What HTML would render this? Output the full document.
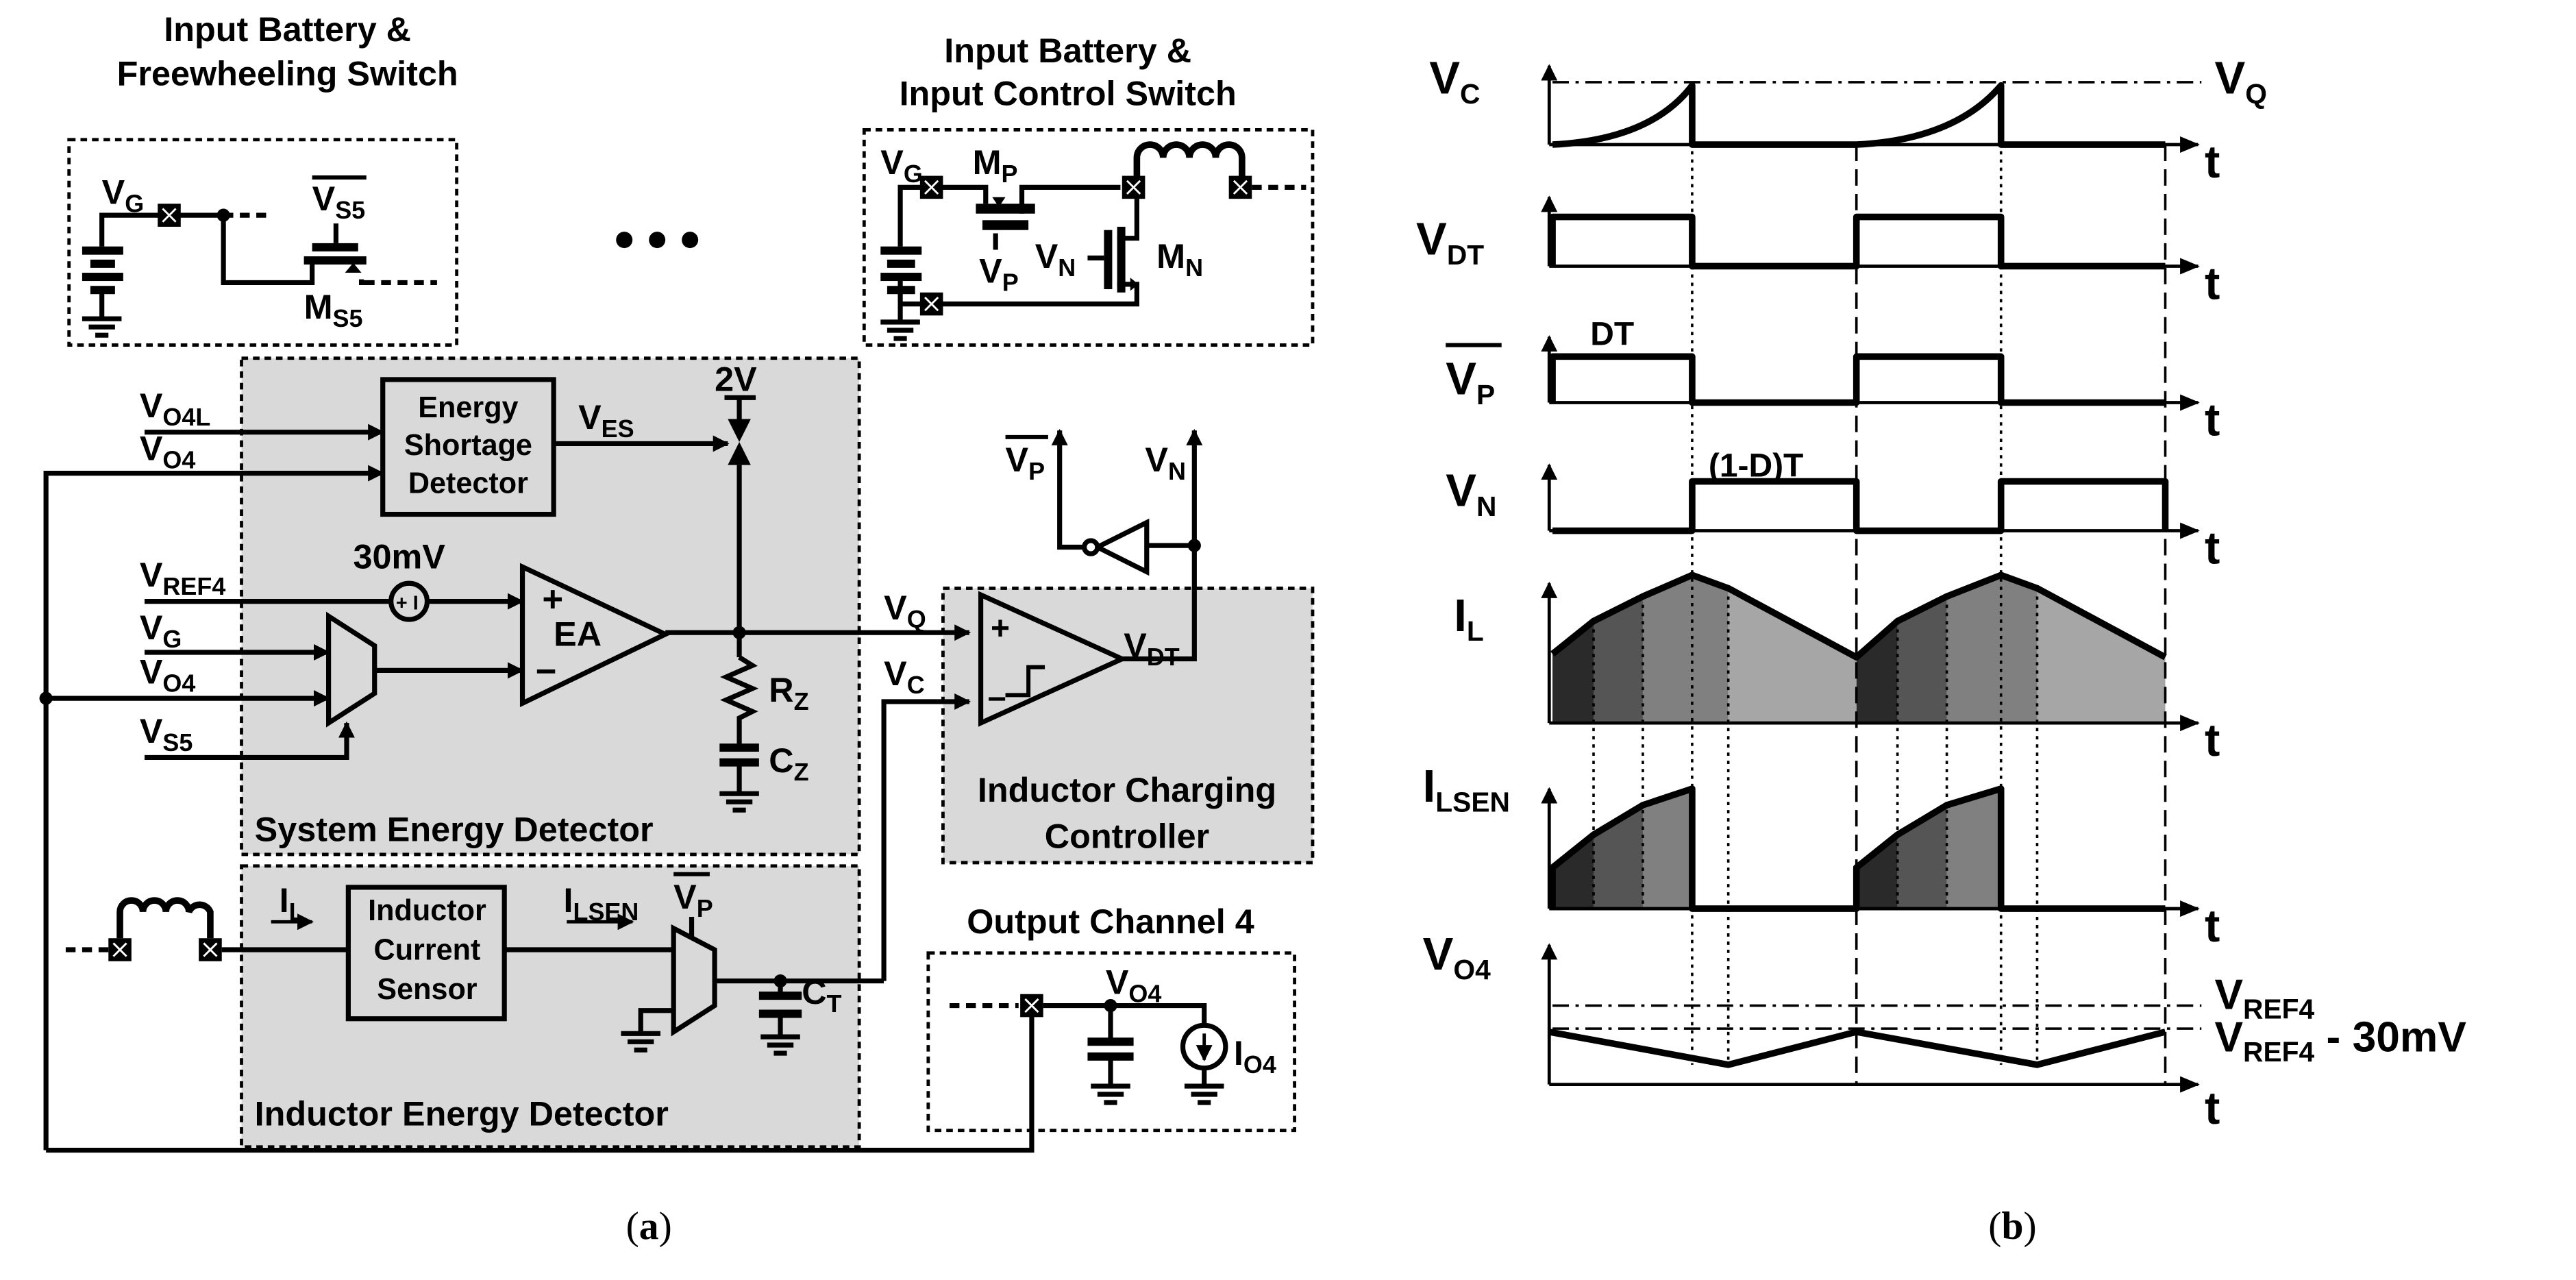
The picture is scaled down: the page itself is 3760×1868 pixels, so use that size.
<!DOCTYPE html>
<html><head><meta charset="utf-8"><style>
html,body{margin:0;padding:0;background:#fff}
svg{display:block}
text{font-family:"Liberation Sans",Arial,sans-serif;font-weight:bold;fill:#000}
.s{font-size:15px}
</style></head><body>
<svg width="3760" height="1868" viewBox="0 0 1568 779" preserveAspectRatio="none" xmlns="http://www.w3.org/2000/svg">
<defs>
<marker id="ar" markerWidth="10" markerHeight="10" refX="9" refY="5" orient="auto" markerUnits="userSpaceOnUse"><path d="M0,0 L10,5 L0,10 z" fill="#000"/></marker>
<marker id="ar2" markerWidth="12" markerHeight="10" refX="11" refY="5" orient="auto" markerUnits="userSpaceOnUse"><path d="M0,0 L12,5 L0,10 z" fill="#000"/></marker>
<g id="pin"><rect x="-7" y="-7" width="14" height="14" fill="#000"/><path d="M-4,-4 L4,4 M4,-4 L-4,4" stroke="#fff" stroke-width="1.2"/></g>
<g id="gnd"><path d="M-12,0 H12 M-8,5 H8 M-4,10 H4" stroke="#000" stroke-width="3"/></g>
</defs>

<rect x="147" y="218" width="376" height="302" fill="#d9d9d9" stroke="#000" stroke-width="2" stroke-dasharray="4,3"/>
<rect x="147" y="527" width="376" height="171" fill="#d9d9d9" stroke="#000" stroke-width="2" stroke-dasharray="4,3"/>
<rect x="574" y="358" width="225" height="167" fill="#d9d9d9" stroke="#000" stroke-width="2" stroke-dasharray="4,3"/>
<rect x="42" y="85" width="236" height="125" fill="none" stroke="#000" stroke-width="2" stroke-dasharray="4,3"/>
<rect x="526" y="79" width="273" height="131" fill="none" stroke="#000" stroke-width="2" stroke-dasharray="4,3"/>
<rect x="565" y="580" width="223" height="108" fill="none" stroke="#000" stroke-width="2" stroke-dasharray="4,3"/>

<g fill="none" stroke="#000" stroke-width="3">
<path d="M62,150 V131 H130 M130,131 H136 V172 H190 V160"/>
<path d="M136,131 H165" stroke-dasharray="6,4"/>
<path d="M220,170 V172 H228"/>
<path d="M232,172 H266" stroke-dasharray="6,4"/>
<path d="M62,178 V193"/>
<path d="M548,150 V114 H600 V124 M622,130 V114 H682 M692,121 V145 H680 M680,173 H692 V185 H548 M548,168 V195"/>
<path d="M762,114 H795" stroke-dasharray="6,4"/>
<path d="M606,142 V152"/>
<path d="M662,157 H672"/>
<path d="M692,108 V96 A8,8 0 0 1 708,96 A8,8 0 0 1 724,96 A8,8 0 0 1 740,96 A8,8 0 0 1 756,96 V108" stroke-width="4"/>
<path d="M88,263 H233" marker-end="url(#ar)"/>
<path d="M28,700 V288 H233" marker-end="url(#ar)"/>
<path d="M337,270 H443" marker-end="url(#ar)"/>
<path d="M441,242 H460 M450,242 V255 M450,283 V400"/>
<path d="M88,366 H237 M261,366 H318" marker-end="url(#ar)"/>
<path d="M88,397 H200" marker-end="url(#ar)"/>
<path d="M28,425 H200" marker-end="url(#ar)"/>
<path d="M88,461 H211 V440" marker-end="url(#ar)"/>
<path d="M228,408 H318" marker-end="url(#ar)"/>
<path d="M405,385 H590" marker-end="url(#ar)"/>
<path d="M450,400 L458,405 L442,412 L458,419 L442,426 L458,433 L450,437 V455"/>
<path d="M438,455 H462 M438,464 H462" stroke-width="5"/>
<path d="M450,464 V482"/>
<circle cx="249" cy="366" r="11"/>
<path d="M318,345 V428 L405,386 Z"/>
<path d="M200,375 L228,393 V422 L200,440 Z"/>
<path d="M597,362 V440 L683,401 Z"/>
<path d="M612,423 H626 V406 H636" stroke-width="2.5"/>
<path d="M538,597 V427 H590" marker-end="url(#ar)"/>
<path d="M683,401 H727 V262" marker-end="url(#ar)"/>
<path d="M727,332 H698 M698,318 V348 L668,333 Z M662,333 H645 V262" marker-end="url(#ar)"/>
<circle cx="664" cy="333" r="4" fill="#fff"/>
<path d="M40,578 H67" stroke-dasharray="6,4"/>
<path d="M73,571 V555 A7,7 0 0 1 87,555 A7,7 0 0 1 101,555 A7,7 0 0 1 115,555 A7,7 0 0 1 128,555 V571" stroke-width="4"/>
<path d="M135,578 H212 M307,578 H410" />
<rect x="212" y="540" width="95" height="80"/>
<path d="M410,565 L435,578 V612 L410,628 Z"/>
<path d="M421,558 V570"/>
<path d="M410,615 H390 V628"/>
<path d="M435,597 H538 M475,597 V605 M475,618 V630"/>
<path d="M462,606 H488 M462,617 H488" stroke-width="5"/>
<rect x="233" y="231" width="104" height="82"/>
<path d="M578,612 H620" stroke-dasharray="6,4"/>
<path d="M628,612 V700 H28"/>
<path d="M635,612 H733 V623 M676,612 V632 M676,644 V660 M733,651 V660"/>
<path d="M662,634 H690 M662,643 H690" stroke-width="5"/>
<circle cx="733" cy="637" r="13"/>
<path d="M733,629 V645" marker-end="url(#ar)" stroke-width="2"/>
<path d="M165,561 H190" stroke-width="2" marker-end="url(#ar)"/>
<path d="M345,561 H385" stroke-width="2" marker-end="url(#ar)"/>
</g>
<g fill="#000">
<rect x="50" y="150" width="25" height="5"/><rect x="55" y="158" width="15" height="5"/><rect x="50" y="166" width="25" height="5"/><rect x="55" y="174" width="15" height="5"/>
<rect x="536" y="150" width="25" height="5"/><rect x="540" y="158" width="17" height="5"/><rect x="536" y="166" width="25" height="5"/><rect x="540" y="174" width="17" height="5"/>
<rect x="190" y="148" width="28" height="5"/><rect x="185" y="156" width="38" height="5"/><rect x="203" y="136" width="3" height="12"/>
<rect x="594" y="124" width="36" height="6"/><rect x="598" y="134" width="28" height="6"/>
<rect x="672" y="140" width="5" height="36"/><rect x="680" y="138" width="5" height="40"/>
<path d="M215,160 l-5,6 h10 z"/><path d="M604,120 h8 l-4,6 z"/><path d="M688,169 l5,4 l-5,4 z"/>
<path d="M443,255 h14 l-7,14 z M443,283 h14 l-7,-14 z"/>
</g>
<use href="#pin" x="103" y="131"/>
<use href="#pin" x="567" y="114"/><use href="#pin" x="567" y="185"/><use href="#pin" x="690" y="114"/><use href="#pin" x="755" y="114"/>
<use href="#pin" x="73" y="578"/><use href="#pin" x="128" y="578"/><use href="#pin" x="628" y="612"/>
<use href="#gnd" x="62" y="194"/><use href="#gnd" x="548" y="196"/><use href="#gnd" x="450" y="483"/><use href="#gnd" x="390" y="629"/><use href="#gnd" x="475" y="631"/><use href="#gnd" x="676" y="661"/><use href="#gnd" x="733" y="661"/>
<g fill="#000"><circle cx="136" cy="131" r="4"/><circle cx="450" cy="385" r="4"/><circle cx="28" cy="425" r="4"/><circle cx="727" cy="332" r="4"/><circle cx="475" cy="597" r="4"/><circle cx="676" cy="612" r="4"/>
<circle cx="380" cy="146" r="5"/><circle cx="400" cy="146" r="5"/><circle cx="420" cy="146" r="5"/></g>

<g font-size="21">
<text x="175" y="25" text-anchor="middle">Input Battery &amp;</text>
<text x="175" y="52" text-anchor="middle">Freewheeling Switch</text>
<text x="650" y="38" text-anchor="middle">Input Battery &amp;</text>
<text x="650" y="64" text-anchor="middle">Input Control Switch</text>
<text x="285" y="254" text-anchor="middle" font-size="18">Energy</text>
<text x="285" y="277" text-anchor="middle" font-size="18">Shortage</text>
<text x="285" y="300" text-anchor="middle" font-size="18">Detector</text>
<text x="260" y="560" text-anchor="middle" font-size="18">Inductor</text>
<text x="260" y="584" text-anchor="middle" font-size="18">Current</text>
<text x="260" y="608" text-anchor="middle" font-size="18">Sensor</text>
<text x="155" y="512">System Energy Detector</text>
<text x="155" y="685">Inductor Energy Detector</text>
<text x="686" y="488" text-anchor="middle">Inductor Charging</text>
<text x="686" y="516" text-anchor="middle">Controller</text>
<text x="676" y="568" text-anchor="middle">Output Channel 4</text>
<text x="330" y="372" font-size="22">+</text>
<text x="337" y="393">EA</text>
<text x="326" y="416" font-size="22">−</text>
<text x="603" y="389" font-size="20">+</text>
<text x="601" y="432" font-size="20">−</text>
<text x="241" y="371" font-size="12">+ I</text>
<text x="215" y="346">30mV</text>
<text x="435" y="238">2V</text>
<text x="62" y="124">V<tspan class="s" dy="5">G</tspan></text>
<text x="190" y="128">V<tspan class="s" dy="5">S5</tspan></text>
<text x="185" y="194">M<tspan class="s" dy="5">S5</tspan></text>
<text x="536" y="106">V<tspan class="s" dy="5">G</tspan></text>
<text x="592" y="106">M<tspan class="s" dy="5">P</tspan></text>
<text x="596" y="172">V<tspan class="s" dy="5">P</tspan></text>
<text x="630" y="163">V<tspan class="s" dy="5">N</tspan></text>
<text x="704" y="163">M<tspan class="s" dy="5">N</tspan></text>
<text x="85" y="254">V<tspan class="s" dy="5">O4L</tspan></text>
<text x="85" y="280">V<tspan class="s" dy="5">O4</tspan></text>
<text x="85" y="357">V<tspan class="s" dy="5">REF4</tspan></text>
<text x="85" y="389">V<tspan class="s" dy="5">G</tspan></text>
<text x="85" y="416">V<tspan class="s" dy="5">O4</tspan></text>
<text x="85" y="452">V<tspan class="s" dy="5">S5</tspan></text>
<text x="352" y="261">V<tspan class="s" dy="5">ES</tspan></text>
<text x="468" y="427">R<tspan class="s" dy="5">Z</tspan></text>
<text x="468" y="470">C<tspan class="s" dy="5">Z</tspan></text>
<text x="538" y="377">V<tspan class="s" dy="5">Q</tspan></text>
<text x="538" y="417">V<tspan class="s" dy="5">C</tspan></text>
<text x="684" y="400">V<tspan class="s" dy="5">DT</tspan></text>
<text x="612" y="287">V<tspan class="s" dy="5">P</tspan></text>
<text x="697" y="287">V<tspan class="s" dy="5">N</tspan></text>
<text x="170" y="555">I<tspan class="s" dy="5">L</tspan></text>
<text x="343" y="555">I<tspan class="s" dy="5">LSEN</tspan></text>
<text x="410" y="553">V<tspan class="s" dy="5">P</tspan></text>
<text x="488" y="611">C<tspan class="s" dy="5">T</tspan></text>
<text x="673" y="605">V<tspan class="s" dy="5">O4</tspan></text>
<text x="751" y="648">I<tspan class="s" dy="5">O4</tspan></text>
</g>
<g stroke="#000" stroke-width="2.5"><path d="M190,108 H223 M612,266 H638 M410,532 H432"/></g>

<g fill="#2a2a2a"><path d="M945,398 L970,378 V440 H945 Z M1130,400 L1155,378 V440 H1130 Z M945,528 L970,508 V553 H945 Z M1130,528 L1155,508 V553 H1130 Z"/></g>
<g fill="#555"><path d="M970,378 L1000,363 V440 H970 Z M1155,378 L1185,363 V440 H1155 Z M970,508 L1000,490 V553 H970 Z M1155,508 L1185,490 V553 H1155 Z"/></g>
<g fill="#808080"><path d="M1000,363 L1030,350 L1052,358 V440 H1000 Z M1185,363 L1218,350 L1240,358 V440 H1185 Z M1000,490 L1030,480 V553 H1000 Z M1185,490 L1218,480 V553 H1185 Z"/></g>
<g fill="#a6a6a6"><path d="M1052,358 L1130,400 V440 H1052 Z M1240,358 L1318,400 V440 H1240 Z"/></g>

<g fill="none" stroke="#000" stroke-width="1.5" stroke-dasharray="2,3">
<path d="M1030,52 V648 M970,378 V553 M1000,363 V553 M1052,358 V648 M1155,378 V553 M1185,363 V553 M1218,52 V648 M1240,358 V648"/>
</g>
<g fill="none" stroke="#000" stroke-width="1.5" stroke-dasharray="10,5">
<path d="M1130,88 V660 M1318,88 V660"/>
</g>
<g fill="none" stroke="#000" stroke-width="1.5" stroke-dasharray="10,4,2,4">
<path d="M945,50 H1340 M945,612 H1340 M945,626 H1340"/>
</g>
<g fill="none" stroke="#000" stroke-width="2">
<path d="M943,88 V40" marker-end="url(#ar)"/><path d="M943,162 V120" marker-end="url(#ar)"/><path d="M943,245 V205" marker-end="url(#ar)"/><path d="M943,323 V283" marker-end="url(#ar)"/><path d="M943,440 V355" marker-end="url(#ar)"/><path d="M943,553 V480" marker-end="url(#ar)"/><path d="M943,660 V575" marker-end="url(#ar)"/>
<path d="M943,88 H1338" marker-end="url(#ar2)"/><path d="M943,162 H1338" marker-end="url(#ar2)"/><path d="M943,245 H1338" marker-end="url(#ar2)"/><path d="M943,323 H1338" marker-end="url(#ar2)"/><path d="M943,440 H1338" marker-end="url(#ar2)"/><path d="M943,553 H1338" marker-end="url(#ar2)"/><path d="M943,660 H1338" marker-end="url(#ar2)"/>
</g>
<g fill="none" stroke="#000" stroke-width="4" stroke-linejoin="round">
<path d="M945,88 Q1005,85 1030,52 V88 H1130 Q1190,85 1218,52 V88 H1318"/>
<path d="M945,162 V132 H1030 V162 H1130 V132 H1218 V162 H1318"/>
<path d="M945,245 V217 H1030 V245 H1130 V217 H1218 V245 H1318"/>
<path d="M945,323 H1030 V293 H1130 V323 H1218 V293 H1318 V323"/>
<path d="M945,398 L970,378 L1000,363 L1030,350 L1052,358 L1130,400 L1155,378 L1185,363 L1218,350 L1240,358 L1318,400"/>
<path d="M945,553 V528 L970,508 L1000,490 L1030,480 V553 H1130 V528 L1155,508 L1185,490 L1218,480 V553 H1318"/>
<path d="M943,628 L1052,648 L1130,628 L1240,648 L1318,628"/>
</g>
<g font-size="28">
<text x="870" y="57">V<tspan dy="6" font-size="17">C</tspan></text>
<text x="862" y="155">V<tspan dy="6" font-size="17">DT</tspan></text>
<text x="880" y="240">V<tspan dy="6" font-size="17">P</tspan></text>
<text x="880" y="308">V<tspan dy="6" font-size="17">N</tspan></text>
<text x="885" y="384">I<tspan dy="6" font-size="17">L</tspan></text>
<text x="866" y="488">I<tspan dy="6" font-size="17">LSEN</tspan></text>
<text x="866" y="590">V<tspan dy="6" font-size="17">O4</tspan></text>
<text x="1348" y="57">V<tspan dy="6" font-size="17">Q</tspan></text>
<text x="1348" y="614" font-size="26">V<tspan dy="6" font-size="17">REF4</tspan></text>
<text x="1348" y="640" font-size="26">V<tspan dy="6" font-size="17">REF4</tspan><tspan dy="-6"> - 30mV</tspan></text>
<text x="968" y="210" font-size="20">DT</text>
<text x="1040" y="290" font-size="20">(1-D)T</text>
<g font-size="28"><text x="1342" y="108">t</text><text x="1342" y="182">t</text><text x="1342" y="265">t</text><text x="1342" y="343">t</text><text x="1342" y="460">t</text><text x="1342" y="573">t</text><text x="1342" y="684">t</text></g>
</g>
<path d="M880,210 H914" stroke="#000" stroke-width="2.5"/>
<text x="395" y="754" font-size="24" text-anchor="middle" style="font-family:'Liberation Serif',serif;font-weight:normal">(<tspan font-weight="bold">a</tspan>)</text>
<text x="1225" y="754" font-size="24" text-anchor="middle" style="font-family:'Liberation Serif',serif;font-weight:normal">(<tspan font-weight="bold">b</tspan>)</text>
</svg>
</body></html>
